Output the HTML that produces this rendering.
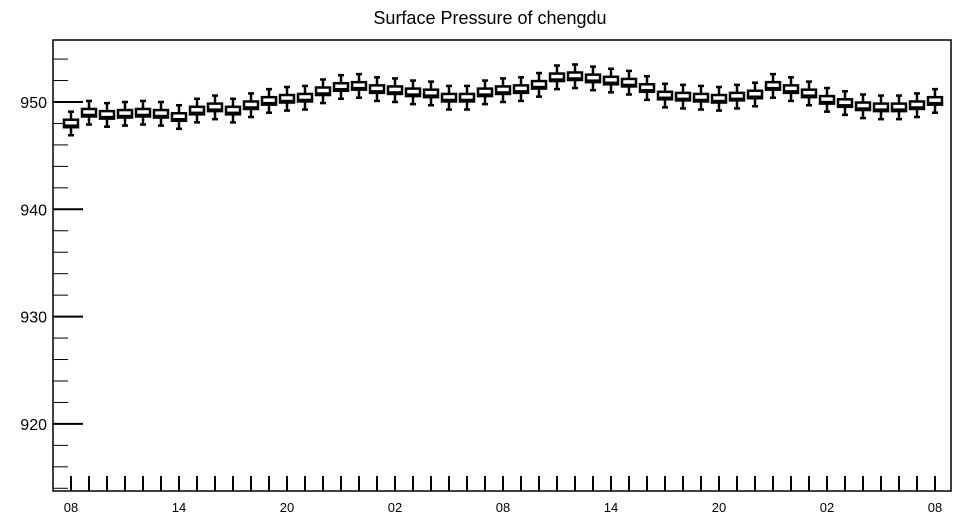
<!DOCTYPE html>
<html><head><meta charset="utf-8"><style>
body{margin:0;background:#fff;font-family:"Liberation Sans",sans-serif}
</style></head><body>
<svg id="c" width="958" height="520" xmlns="http://www.w3.org/2000/svg">
<text x="490" y="24" font-size="18" text-anchor="middle">Surface Pressure of chengdu</text>
<rect x="53" y="40" width="898" height="451" fill="none" stroke="#000" stroke-width="1.5"/>
<g id="g"></g>
</svg>
<script>
const medians=[948.0,949.0,948.8,948.9,949.0,948.9,948.6,949.2,949.5,949.2,949.7,950.1,950.3,950.4,951.0,951.4,951.5,951.2,951.1,950.9,950.8,950.4,950.4,950.9,951.1,951.2,951.6,952.3,952.4,952.2,952.0,951.8,951.3,950.6,950.5,950.4,950.3,950.5,950.7,951.5,951.2,950.8,950.2,949.9,949.6,949.5,949.5,949.7,950.1];
const yTicks=[920,930,940,950];
const xLabels=["08","14","20","02","08","14","20","02","08"];
const NS="http://www.w3.org/2000/svg";
const g=document.getElementById('g');
const y=v=>102+(950-v)*10.73;
const x=i=>71+i*18;
function mk(t,a){const e=document.createElementNS(NS,t);for(const k in a)e.setAttribute(k,a[k]);g.appendChild(e);return e;}
for(let v=914;v<=955;v+=2){
  const major=v%10===0;
  const e=mk('line',{x1:53,x2:major?83:68,y1:y(v),y2:y(v),stroke:'#000','stroke-width':major?2:1});
  
  
}
yTicks.forEach(v=>{
  const t=mk('text',{x:47,y:y(v)+6,'font-size':16,'text-anchor':'end'});t.textContent=v;
  
  
});
medians.forEach((m,i)=>{
  const tk=mk('line',{x1:x(i),x2:x(i),y1:476,y2:491,stroke:'#000','stroke-width':2});
  
  
  const cx=x(i);
  const w=mk('line',{x1:cx,x2:cx,y1:y(m+1.1),y2:y(m-1.1),stroke:'#000','stroke-width':2.5});
  
  
  [m+1.1,m-1.1].forEach(v=>{const c=mk('line',{x1:cx-3,x2:cx+3,y1:y(v),y2:y(v),stroke:'#000','stroke-width':2.5});
    
    });
  const b=mk('rect',{x:cx-7,y:y(m+0.35),width:14,height:y(m-0.35)-y(m+0.35),fill:'#fff',stroke:'#000','stroke-width':2.5});
  
  
  const md=mk('line',{x1:cx-7,x2:cx+7,y1:y(m)+2,y2:y(m)+2,stroke:'#000','stroke-width':2});
  
  
});
xLabels.forEach((l,i)=>{
  const t=mk('text',{x:x(i*6),y:512,'font-size':13,'text-anchor':'middle'});t.textContent=l;
  
  
});
</script>
</body></html>
